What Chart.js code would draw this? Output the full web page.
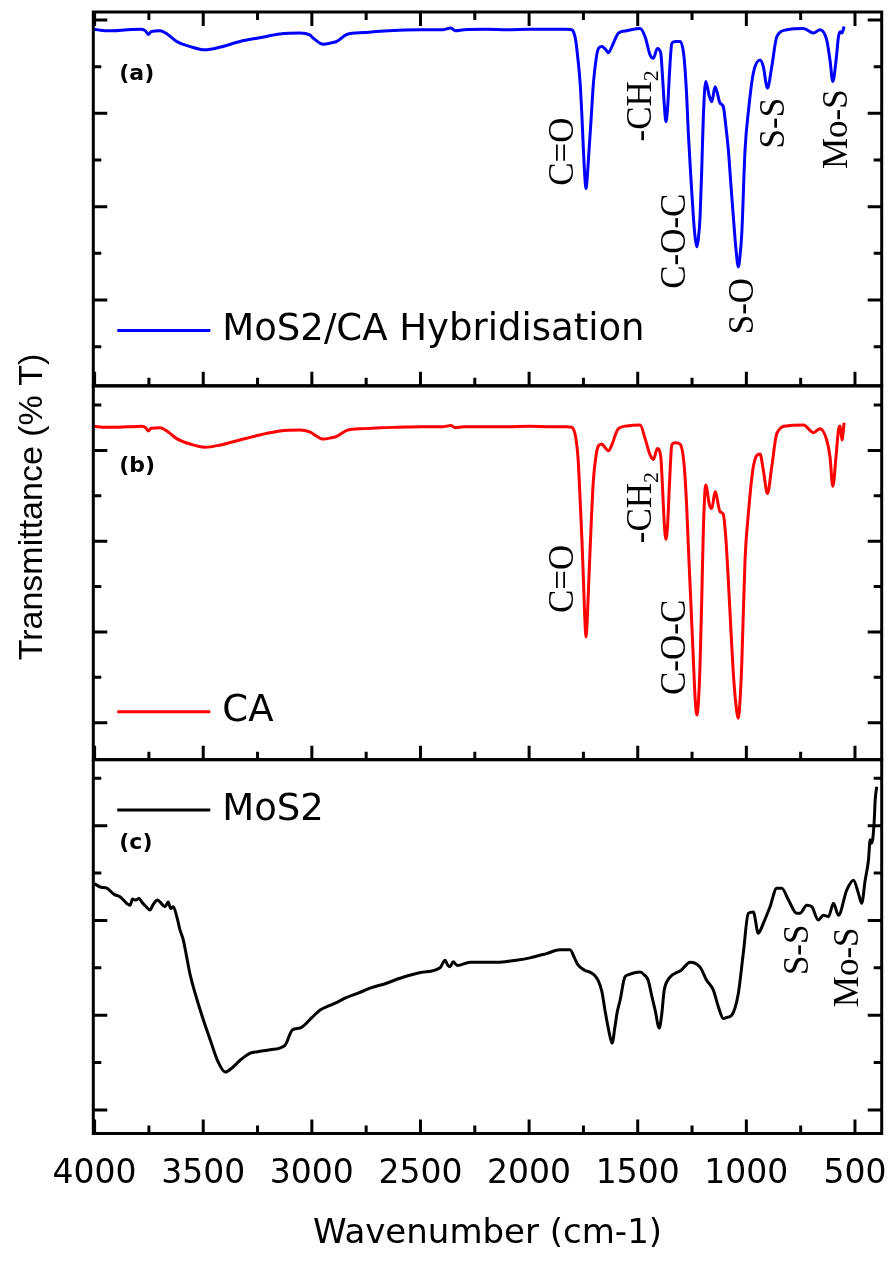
<!DOCTYPE html>
<html>
<head>
<meta charset="utf-8">
<title>FTIR spectra</title>
<script src="https://cdn.jsdelivr.net/npm/chart.js@4.4.1/dist/chart.umd.min.js"></script>
<style>
    html, body { margin: 0; padding: 0; background: #fff; }
    canvas { display: block; }
</style>
</head>
<body>
<canvas id="ftirChart" width="891" height="1264"></canvas>
<script>
// Global Chart.js setup
Chart.defaults.font.family = '"DejaVu Sans", sans-serif';
Chart.defaults.color = '#000';

// X axis (wavenumber, cm-1)
const xMajorTicks = [4000, 3500, 3000, 2500, 2000, 1500, 1000, 500];
const xMinorTicks = [3750, 3250, 2750, 2250, 1750, 1250, 750];

// Y tick values shared by the three panels (arbitrary % T units)
const yTicksOdd = [70, 50, 30, 10];
const yTicksEven = [60, 40, 20, 0];

// (a) MoS2/CA hybridisation
const waveA = [4003, 3950, 3914, 3850, 3783, 3765, 3753, 3740, 3699, 3660, 3622, 3560, 3492, 3420, 3331, 3240,
    3147, 3055, 3010, 2993, 2947, 2910, 2885, 2839, 2760, 2686, 2600, 2500, 2400, 2360, 2340, 2300, 2200, 2100,
    2000, 1900, 1830, 1804, 1795, 1785, 1775, 1765, 1757, 1750, 1744, 1738, 1732, 1725, 1715, 1704, 1692, 1681,
    1665, 1650, 1635, 1619, 1600, 1589, 1550, 1489, 1466, 1443, 1428, 1410, 1394, 1386, 1378, 1370, 1362, 1354,
    1343, 1328, 1305, 1287, 1275, 1267, 1255, 1244, 1236, 1228, 1220, 1213, 1205, 1198, 1187, 1170, 1159, 1144,
    1121, 1106, 1095, 1083, 1070, 1060, 1048, 1037, 1029, 1021, 1006, 990, 968, 937, 922, 903, 883, 860, 814,
    737, 691, 661, 630, 615, 602, 587, 576, 568, 560, 550];
const transA = [68.0, 67.7, 67.7, 67.9, 68.0, 67.6, 66.9, 67.5, 67.7, 66.8, 65.4, 64.3, 63.6, 64.2, 65.4, 66.2,
    67.0, 67.2, 66.8, 66.1, 64.8, 65.1, 65.4, 66.9, 67.3, 67.6, 67.8, 67.9, 67.9, 68.3, 67.7, 67.9, 68.0, 67.9,
    68.0, 68.0, 68.0, 67.9, 67.4, 65.5, 61.5, 56.4, 49.5, 42.2, 36.8, 33.9, 36.5, 41.5, 48.5, 56.4, 61.5, 63.9,
    64.3, 63.8, 63.0, 64.3, 66.3, 67.2, 67.7, 68.2, 66.4, 62.5, 61.8, 63.9, 62.9, 58.0, 52.0, 48.2, 51.5, 58.5,
    65.0, 65.4, 65.4, 62.1, 54.0, 45.7, 36.0, 27.9, 23.5, 21.4, 23.5, 27.9, 38.5, 49.3, 56.8, 53.6, 52.5, 55.7,
    52.2, 51.4, 47.5, 42.2, 34.0, 27.9, 21.0, 17.1, 19.5, 24.3, 42.2, 50.7, 58.6, 61.4, 60.0, 55.4, 60.0, 66.4, 67.9,
    68.2, 67.2, 67.9, 65.7, 61.4, 56.8, 61.4, 66.4, 67.5, 67.2, 68.6];

// (b) CA
const waveB = waveA.slice();
const transB = [65.3, 65.1, 65.1, 65.2, 65.3, 65.0, 64.3, 64.9, 65.0, 64.0, 62.6, 61.4, 60.7, 61.2, 62.3, 63.4,
    64.3, 64.5, 64.1, 63.6, 62.5, 62.8, 63.1, 64.4, 64.8, 65.0, 65.1, 65.2, 65.2, 65.5, 65.0, 65.2, 65.2, 65.2,
    65.3, 65.2, 65.2, 65.1, 64.6, 62.8, 58.5, 49.0, 40.5, 31.5, 23.5, 18.9, 23.0, 31.5, 43.0, 53.5, 58.8, 61.0,
    61.4, 60.6, 59.9, 61.2, 63.8, 64.8, 65.4, 65.6, 62.6, 59.0, 58.0, 60.4, 58.6, 52.0, 44.0, 40.4, 44.0, 52.5,
    61.2, 61.7, 61.4, 57.1, 48.0, 38.8, 26.0, 14.0, 5.5, 1.7, 5.0, 13.1, 28.0, 42.4, 52.4, 48.0, 47.2, 50.9,
    46.5, 45.9, 41.0, 31.4, 19.5, 10.9, 4.0, 1.0, 5.0, 13.1, 36.0, 46.5, 56.4, 59.2, 55.7, 50.5, 56.4, 63.7, 65.4,
    65.6, 63.9, 64.8, 62.3, 58.6, 52.1, 58.8, 64.5, 65.4, 62.3, 66.1];

// (c) MoS2
const waveC = [4003, 3970, 3944, 3910, 3883, 3850, 3837, 3825, 3814, 3795, 3783, 3765, 3745, 3730, 3710, 3699,
    3676, 3661, 3650, 3638, 3620, 3607, 3592, 3560, 3514, 3468, 3431, 3399, 3367, 3330, 3284, 3250, 3192, 3123,
    3090, 3054, 3000, 2962, 2920, 2880, 2847, 2790, 2732, 2660, 2594, 2500, 2410, 2387, 2375, 2364, 2350, 2330,
    2272, 2200, 2134, 2060, 1996, 1920, 1858, 1812, 1790, 1775, 1745, 1720, 1700, 1683, 1665, 1651, 1630, 1618,
    1605, 1595, 1581, 1560, 1545, 1510, 1489, 1470, 1452, 1435, 1420, 1401, 1390, 1378, 1360, 1341, 1300, 1259,
    1214, 1183, 1152, 1129, 1106, 1085, 1067, 1037, 1014, 991, 968, 945, 922, 891, 860, 837, 806, 768, 753, 722,
    699, 669, 645, 622, 599, 576, 538, 507, 484, 469, 453, 438, 430, 423, 412, 407, 400];
const transC = [47.8, 47.0, 46.8, 45.5, 45.0, 43.5, 43.2, 44.5, 44.3, 44.6, 43.9, 43.0, 42.2, 43.4, 44.3, 43.9,
    42.9, 43.9, 42.5, 42.9, 40.5, 38.0, 35.9, 28.5, 21.1, 14.8, 10.1, 8.0, 8.9, 10.5, 12.0, 12.3, 12.7, 13.7,
    16.9, 17.3, 19.5, 21.1, 22.0, 22.8, 23.6, 24.6, 25.7, 26.7, 27.8, 29.0, 30.0, 31.6, 30.6, 30.2, 31.3, 30.5,
    31.2, 31.2, 31.2, 31.6, 32.1, 33.0, 33.8, 33.8, 32.0, 30.6, 29.5, 29.1, 28.5, 27.4, 25.0, 21.1, 16.0, 14.1,
    17.5, 20.5, 23.2, 28.0, 28.5, 29.0, 29.1, 28.5, 27.4, 24.0, 21.1, 17.3, 20.0, 25.3, 27.5, 28.5, 29.5, 31.2,
    30.2, 27.4, 25.3, 21.8, 19.3, 19.6, 20.0, 24.6, 33.1, 41.5, 41.8, 37.3, 39.4, 42.9, 46.8, 46.8, 44.3, 41.5, 41.5, 43.2,
    42.9, 40.1, 41.1, 40.8, 43.6, 41.1, 46.4, 48.5, 45.7, 43.6, 48.5, 52.7, 57.0, 56.3, 60.5, 65.4, 68.2];

// Band assignments written on the spectra (wavenumber, % T)
const bandLabels = [
    { axis: 'yA', text: 'C=O', sub: '', x: 1853, y: 41.8 },
    { axis: 'yA', text: '-CH', sub: '2', x: 1494, y: 51.6 },
    { axis: 'yA', text: 'C-O-C', sub: '', x: 1337, y: 22.6 },
    { axis: 'yA', text: 'S-O', sub: '', x: 1024, y: 8.7 },
    { axis: 'yA', text: 'S-S', sub: '', x: 882, y: 47.9 },
    { axis: 'yA', text: 'Mo-S', sub: '', x: 592, y: 46.6 },
    { axis: 'yB', text: 'C=O', sub: '', x: 1853, y: 31.7 },
    { axis: 'yB', text: '-CH', sub: '2', x: 1494, y: 47.4 },
    { axis: 'yB', text: 'C-O-C', sub: '', x: 1337, y: 16.6 },
    { axis: 'yC', text: 'S-S', sub: '', x: 771, y: 33.8 },
    { axis: 'yC', text: 'Mo-S', sub: '', x: 541, y: 30.1 }
];

// One entry per stacked panel
const panels = [
    { axis: 'yA', tag: '(a)', tagY: 58.4, name: 'MoS2/CA Hybridisation', nameY: 3.5, color: '#0000ff',
      range: [-8.38, 71.71], major: yTicksOdd, minor: yTicksEven },
    { axis: 'yB', tag: '(b)', tagY: 56.5, name: 'CA', nameY: 2.4, color: '#ff0000',
      range: [-8.15, 74.23], major: yTicksEven, minor: yTicksOdd },
    { axis: 'yC', tag: '(c)', tagY: 56.3, name: 'MoS2', nameY: 63.3, color: '#000000',
      range: [-4.96, 73.92], major: yTicksEven, minor: yTicksOdd }
];

function toPoints(waves, values) {
    return waves.map((w, i) => ({ x: w, y: values[i] }));
}

// Frames, inward ticks, legends and labels drawn on top of the spectra
const ftirDecorations = {
    id: 'ftirDecorations',
    afterDatasetsDraw(chart) {
        const ctx = chart.ctx;
        const area = chart.chartArea;
        const xs = chart.scales.x;
        const majorLen = 14;
        const minorLen = 8;

        ctx.save();
        ctx.strokeStyle = '#000';
        ctx.lineWidth = 3;
        ctx.lineJoin = 'miter';

        panels.forEach((panel, i) => {
            const ys = chart.scales[panel.axis];
            ctx.strokeRect(area.left, ys.top, area.right - area.left, ys.bottom - ys.top);

            ctx.beginPath();
            const yTick = (v, len) => {
                const py = ys.getPixelForValue(v);
                ctx.moveTo(area.left, py);
                ctx.lineTo(area.left + len, py);
                ctx.moveTo(area.right, py);
                ctx.lineTo(area.right - len, py);
            };
            panel.major.forEach(v => yTick(v, majorLen));
            panel.minor.forEach(v => yTick(v, minorLen));

            const xTick = (v, len) => {
                const px = xs.getPixelForValue(v);
                ctx.moveTo(px, ys.bottom);
                ctx.lineTo(px, ys.bottom - len);
                if (i === 0) {
                    ctx.moveTo(px, ys.top);
                    ctx.lineTo(px, ys.top + len);
                }
            };
            xMajorTicks.forEach(v => xTick(v, majorLen));
            xMinorTicks.forEach(v => xTick(v, minorLen));
            ctx.stroke();

            // legend line + name
            const ly = ys.getPixelForValue(panel.nameY);
            ctx.beginPath();
            ctx.strokeStyle = panel.color;
            ctx.moveTo(area.left + 24, ly);
            ctx.lineTo(area.left + 117, ly);
            ctx.stroke();
            ctx.strokeStyle = '#000';

            ctx.fillStyle = '#000';
            ctx.textAlign = 'left';
            ctx.textBaseline = 'middle';
            ctx.font = '37px "DejaVu Sans"';
            ctx.fillText(panel.name, area.left + 129, ly);

            // panel tag
            ctx.font = 'bold 22px "DejaVu Sans"';
            ctx.fillText(panel.tag, area.left + 26, ys.getPixelForValue(panel.tagY));
        });

        // rotated band assignments
        bandLabels.forEach(b => {
            const ys = chart.scales[b.axis];
            ctx.save();
            ctx.translate(xs.getPixelForValue(b.x), ys.getPixelForValue(b.y));
            ctx.rotate(-Math.PI / 2);
            ctx.textAlign = 'left';
            ctx.textBaseline = 'alphabetic';
            ctx.font = '35px "Liberation Serif"';
            const w1 = ctx.measureText(b.text).width;
            ctx.font = '22px "Liberation Serif"';
            const w2 = b.sub ? ctx.measureText(b.sub).width : 0;
            const start = -(w1 + w2) / 2;
            ctx.font = '35px "Liberation Serif"';
            ctx.fillText(b.text, start, 12);
            if (b.sub) {
                ctx.font = '22px "Liberation Serif"';
                ctx.fillText(b.sub, start + w1, 19);
            }
            ctx.restore();
        });

        // y axis title
        ctx.save();
        ctx.translate(area.left - 61, area.top + 495);
        ctx.rotate(-Math.PI / 2);
        ctx.textAlign = 'center';
        ctx.textBaseline = 'middle';
        ctx.font = '34px "Liberation Sans"';
        ctx.fillText('Transmittance (% T)', 0, 0);
        ctx.restore();

        ctx.restore();
    }
};

function panelAxis(panel, weight) {
    return {
        type: 'linear',
        position: 'left',
        stack: 'panels',
        stackWeight: 1,
        weight: weight,
        min: panel.range[0],
        max: panel.range[1],
        ticks: { display: false },
        grid: { display: false, drawTicks: false },
        border: { display: false },
        afterFit: function(scale) { scale.width = 0; }
    };
}

// FTIR chart with three stacked panels
function initFtirChart() {
    const ctx = document.getElementById('ftirChart').getContext('2d');
    new Chart(ctx, {
        type: 'line',
        data: {
            datasets: [{
                label: panels[0].name,
                data: toPoints(waveA, transA),
                yAxisID: 'yA',
                borderColor: panels[0].color,
                borderWidth: 3
            }, {
                label: panels[1].name,
                data: toPoints(waveB, transB),
                yAxisID: 'yB',
                borderColor: panels[1].color,
                borderWidth: 3
            }, {
                label: panels[2].name,
                data: toPoints(waveC, transC),
                yAxisID: 'yC',
                borderColor: panels[2].color,
                borderWidth: 3
            }]
        },
        options: {
            responsive: false,
            animation: false,
            devicePixelRatio: 1,
            events: [],
            layout: {
                padding: { left: 93.3, right: 9.3, top: 12, bottom: 0 }
            },
            elements: {
                point: { radius: 0 },
                line: { cubicInterpolationMode: 'monotone', borderJoinStyle: 'round', fill: false }
            },
            plugins: {
                legend: { display: false },
                tooltip: { enabled: false }
            },
            scales: {
                x: {
                    type: 'linear',
                    position: 'bottom',
                    reverse: true,
                    min: 377,
                    max: 4006,
                    afterBuildTicks: function(scale) {
                        scale.ticks = xMajorTicks.map(v => ({ value: v }));
                    },
                    afterFit: function(scale) {
                        scale.height = 130.5;
                        scale.paddingLeft = 0;
                        scale.paddingRight = 0;
                    },
                    grid: { display: false, drawTicks: false },
                    border: { display: false },
                    ticks: {
                        autoSkip: false,
                        maxRotation: 0,
                        padding: 21,
                        font: { size: 33 },
                        callback: function(value) { return String(value); }
                    },
                    title: {
                        display: true,
                        text: 'Wavenumber (cm-1)',
                        font: { size: 34 },
                        padding: { top: 0, bottom: 9 }
                    }
                },
                yA: panelAxis(panels[0], 3),
                yB: panelAxis(panels[1], 2),
                yC: panelAxis(panels[2], 1)
            }
        },
        plugins: [ftirDecorations]
    });
}

document.addEventListener('DOMContentLoaded', function() {
    initFtirChart();
});
</script>
</body>
</html>
